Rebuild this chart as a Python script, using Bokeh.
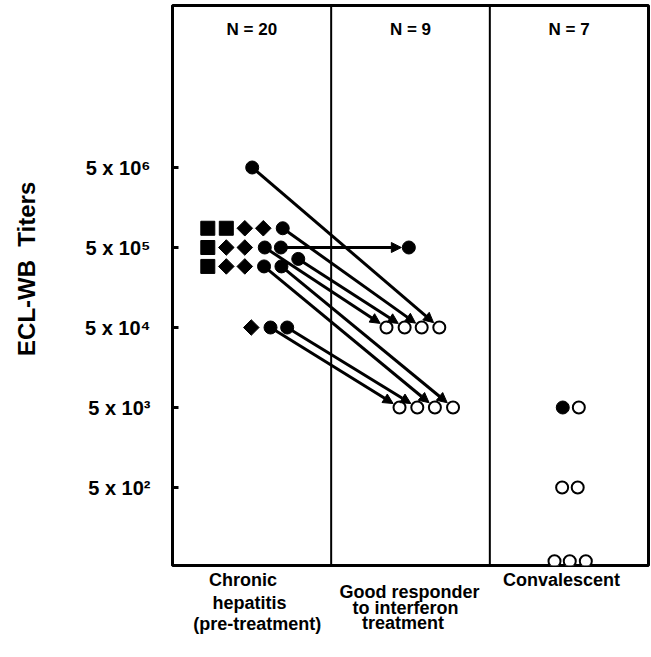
import math
import numpy as np
from bokeh.plotting import figure
from bokeh.layouts import column
from bokeh.models import Range1d, FixedTicker, Span, Arrow, NormalHead, ColumnDataSource
from bokeh.core.properties import value
from bokeh.embed import file_html
from bokeh.resources import INLINE

# ---------------- data ----------------
group_lines = [["Chronic", "hepatitis", "(pre-treatment)"],
               ["Good responder", "to interferon", "treatment"],
               ["Convalescent"]]
group_n = [20, 9, 7]
tick_values = [5e2, 5e3, 5e4, 5e5, 5e6]
tick_labels = ["5 x 10\u00b2", "5 x 10\u00b3", "5 x 10\u2074", "5 x 10\u2075", "5 x 10\u2076"]
y_title = "ECL-WB  Titers"

# chronic hepatitis patients not followed (squares, diamonds)
sq_titer = [8.7e5, 8.7e5, 5e5, 2.9e5]
sq_slot = [0, 1, 0, 0]
dm_titer = [8.7e5, 8.7e5, 5e5, 5e5, 2.9e5, 2.9e5, 5e4]
dm_slot = [2, 3, 1, 2, 1, 2, 2.35]
# chronic hepatitis patients followed through interferon treatment
pre_titer = [5e6, 8.7e5, 5e5, 5e5, 3.6e5, 2.9e5, 2.9e5, 5e4, 5e4]
pre_slot = [2.4, 4.05, 3.08, 3.95, 4.89, 3.04, 3.98, 3.39, 4.29]
post_titer = [5e4, 5e4, 5e4, 5e5, 5e4, 5e3, 5e3, 5e3, 5e3]
post_slot = [3.0, 2.0, 0.0, 1.27, 1.03, 2.75, 3.78, 0.74, 1.75]
post_filled = [False, False, False, True, False, False, False, False, False]
# convalescent
conv_titer = [5e3, 5e3, 5e2, 5e2, 60, 60, 60]
conv_slot = [0.52, 1.53, 0.48, 1.46, 0.0, 0.96, 1.97]
conv_filled = [True, False, False, False, False, False, False]

# ---------------- layout ----------------
FIG_W = 651
BORDER_L, BORDER_R, BORDER_T, BORDER_B = 172, 3, 5, 3
FRAME_W = FIG_W - BORDER_L - BORDER_R
FRAME_H = 560
FIG_H = BORDER_T + FRAME_H + BORDER_B
LOW_H = 86
LOW_SHIFT = -6
FRAME_TOP = BORDER_T
FRAME_LEFT = BORDER_L
X_PX = FRAME_W / 3.0
DECADE_PX = 80.0
REF_TICK_PX = 167  # page y of the top tick
y_end = 5e6 * 10 ** ((REF_TICK_PX - FRAME_TOP) / DECADE_PX)
y_start = y_end / 10 ** (FRAME_H / DECADE_PX)


def xd(page_x):
    return (page_x - FRAME_LEFT) / X_PX


def yd(page_y):
    return 10 ** (math.log10(y_end) - (page_y - FRAME_TOP) / DECADE_PX)


chron_base, chron_step = xd(207.3), 18.5 / X_PX
resp_base, resp_step = xd(386.0), 17.6 / X_PX
conv_base, conv_step = xd(554.0), 15.9 / X_PX

sq_x = [chron_base + s * chron_step for s in sq_slot]
dm_x = [chron_base + s * chron_step for s in dm_slot]
pre_x = [chron_base + s * chron_step for s in pre_slot]
post_x = [resp_base + s * resp_step for s in post_slot]
conv_x = [conv_base + s * conv_step for s in conv_slot]

x_range = Range1d(0, 3)
p = figure(width=FIG_W, height=FIG_H, x_range=x_range, y_range=Range1d(y_start, y_end),
           y_axis_type="log", x_axis_location=None, toolbar_location=None, output_backend="svg",
           min_border_left=BORDER_L, min_border_right=BORDER_R, min_border_top=BORDER_T,
           min_border_bottom=BORDER_B)
p.xgrid.visible = False
p.ygrid.visible = False
p.outline_line_color = "black"
p.outline_line_width = 3
p.background_fill_color = "white"
p.border_fill_color = "white"

ax = p.yaxis[0]
ax.ticker = FixedTicker(ticks=tick_values)
ax.major_label_overrides = {v: s for v, s in zip(tick_values, tick_labels)}
ax.minor_tick_line_color = None
ax.major_tick_in = 6
ax.major_tick_out = 0
ax.major_tick_line_width = 3
ax.axis_line_width = 3
ax.major_label_standoff = 22
ax.major_label_text_font = "Liberation Sans"
ax.major_label_text_font_style = "bold"
ax.major_label_text_font_size = "20px"
ax.major_label_text_color = "black"
ax.axis_label = "\u00a0" * 5 + y_title.replace("  ", "\u00a0 ")
ax.axis_label_text_font = "Liberation Sans"
ax.axis_label_text_font_style = "bold"
ax.axis_label_text_font_size = "24px"
ax.axis_label_text_color = "black"
ax.axis_label_standoff = 42

for loc in (1, 2):
    p.add_layout(Span(location=loc, dimension="height", line_color="black", line_width=2))

# arrows (shortened so the head stops at the target circle edge)
xs0, ys0, xs1, ys1 = [], [], [], []
for x0, y0, x1, y1 in zip(pre_x, pre_titer, post_x, post_titer):
    dxp = (x1 - x0) * X_PX
    dyp = (math.log10(y1) - math.log10(y0)) * DECADE_PX
    L = math.hypot(dxp, dyp)
    f = (L - 7.5) / L
    xs0.append(x0)
    ys0.append(y0)
    xs1.append(x0 + (x1 - x0) * f)
    ys1.append(10 ** (math.log10(y0) + (math.log10(y1) - math.log10(y0)) * f))
arr_src = ColumnDataSource(dict(x0=xs0, y0=ys0, x1=xs1, y1=ys1))
p.add_layout(Arrow(x_start="x0", y_start="y0", x_end="x1", y_end="y1", source=arr_src,
                   line_width=3, line_color="black",
                   end=NormalHead(size=10, fill_color="black", line_color="black", line_width=1)))

# markers
p.scatter(sq_x, sq_titer, marker="square", size=14, color="black")
p.scatter(dm_x, dm_titer, marker="square", angle=np.pi / 4, size=11, color="black")
p.scatter(pre_x, pre_titer, marker="circle", size=13, color="black")

pf_x = [x for x, f in zip(post_x, post_filled) if f]
pf_y = [y for y, f in zip(post_titer, post_filled) if f]
po_x = [x for x, f in zip(post_x, post_filled) if not f]
po_y = [y for y, f in zip(post_titer, post_filled) if not f]
p.scatter(pf_x, pf_y, marker="circle", size=13, color="black")
p.scatter(po_x, po_y, marker="circle", size=12, fill_color="white", line_color="black", line_width=2)

cf_x = [x for x, f in zip(conv_x, conv_filled) if f]
cf_y = [y for y, f in zip(conv_titer, conv_filled) if f]
co_x = [x for x, f in zip(conv_x, conv_filled) if not f]
co_y = [y for y, f in zip(conv_titer, conv_filled) if not f]
p.scatter(cf_x, cf_y, marker="circle", size=13, color="black")
p.scatter(co_x, co_y, marker="circle", size=12, fill_color="white", line_color="black", line_width=2)

# N labels
p.text(x=[0.5, 1.5, 2.5], y=[yd(29)] * 3, text=["N = %d" % n for n in group_n],
       text_font=value("Liberation Sans"), text_font_style="bold", text_font_size="17px",
       text_align="center", text_baseline="middle", text_color="black")

# ---------------- category labels (strip below the box) ----------------
top_page = FIG_H
p2 = figure(width=FIG_W, height=LOW_H, x_range=x_range,
            y_range=Range1d(top_page + LOW_H, top_page),
            x_axis_location=None, y_axis_location=None, toolbar_location=None,
            output_backend="svg", min_border_left=BORDER_L, min_border_right=BORDER_R,
            min_border_top=0, min_border_bottom=0)
p2.xgrid.visible = False
p2.ygrid.visible = False
p2.outline_line_color = None
p2.background_fill_color = "white"
p2.border_fill_color = "white"

label_pos = [[(242.5, 585), (249, 608), (256.7, 629)],
             [(409, 597), (405, 613), (402.5, 628)],
             [(561, 585)]]
lx, ly, lt = [], [], []
for lines, poss in zip(group_lines, label_pos):
    for txt, (px, py) in zip(lines, poss):
        lx.append(xd(px))
        ly.append(py + LOW_SHIFT)
        lt.append(txt)
p2.text(x=lx, y=ly, text=lt, text_font=value("Liberation Sans"), text_font_style="bold",
        text_font_size="18px", text_align="center", text_baseline="alphabetic", text_color="black")

layout = column(p, p2, spacing=0)
open("out.html", "w").write(file_html(layout, INLINE))
